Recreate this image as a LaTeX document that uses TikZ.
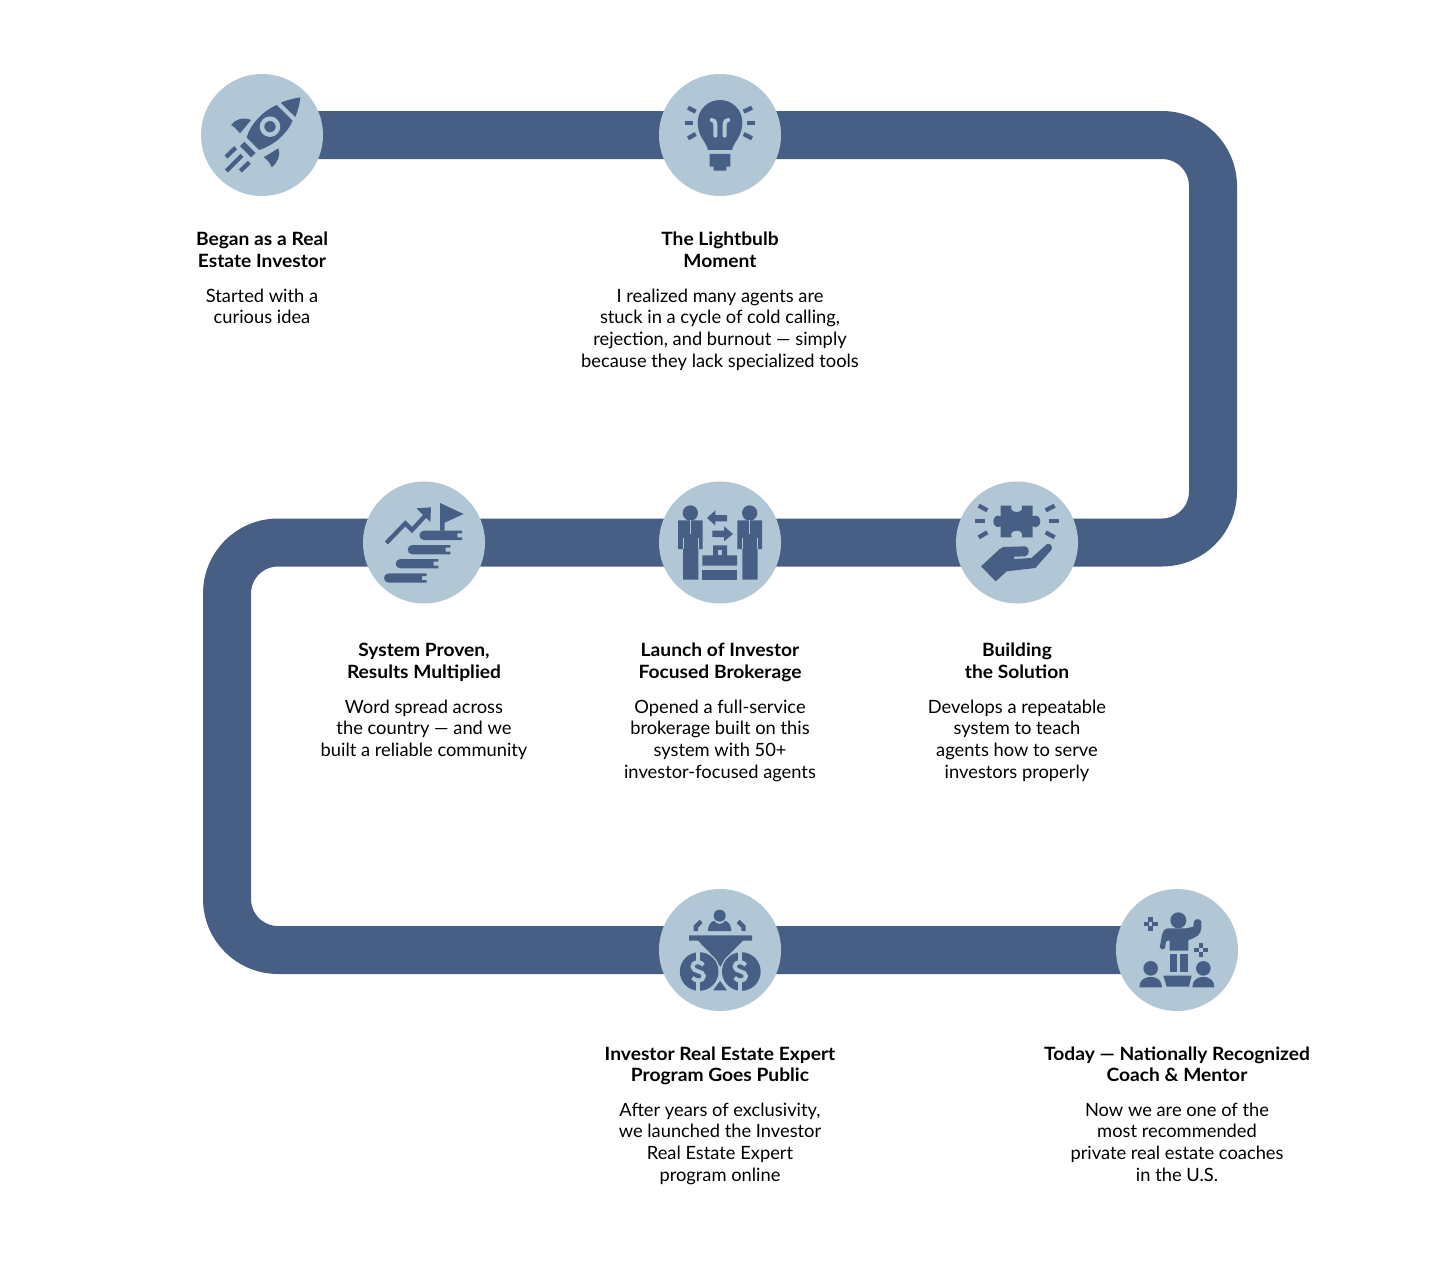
\documentclass[tikz,border=0pt]{standalone}
\usepackage{fontspec}
\setmainfont{Lato}[BoldFeatures={FakeStretch=1.05}]
\usetikzlibrary{backgrounds}
\definecolor{pathblue}{HTML}{475F85}
\definecolor{disc}{HTML}{B2C7D6}
\tikzset{
  x=1pt,y=-1pt,
  stagedisc/.style={circle,fill=disc,minimum size=122pt,inner sep=0pt,outer sep=0pt},
  track/.style={draw=pathblue,line width=48pt,rounded corners=51pt},
  stagetitle/.style={anchor=north,align=center,inner sep=0pt,font=\fontsize{18.3pt}{21.6pt}\selectfont\bfseries},
  stagebody/.style={anchor=north,align=center,inner sep=0pt,font=\fontsize{18.3pt}{21.7pt}\selectfont},
  ic/.style={fill=pathblue,draw=none},
  icl/.style={draw=pathblue,line width=4.3pt},
  lite/.style={draw=disc,line width=4pt},
}
\newcommand{\iconat}[3]{\begin{scope}[shift={(#1,#2)},x=0.33333pt,y=-0.33333pt]#3\end{scope}}
\begin{document}
\begin{tikzpicture}
\useasboundingbox (0,0) rectangle (1440,1263);
\node[stagedisc] (s1) at (262,135) {};
\node[stagedisc] (s2) at (720,135) {};
\node[stagedisc] (s3) at (1017,542.5) {};
\node[stagedisc] (s4) at (720,542.5) {};
\node[stagedisc] (s5) at (424,542.5) {};
\node[stagedisc] (s6) at (720,950) {};
\node[stagedisc] (s7) at (1177,950) {};
\coordinate (c1) at (1213,135);
\coordinate (c2) at (1213,542.5);
\coordinate (c3) at (227,542.5);
\coordinate (c4) at (227,950);
\begin{scope}[on background layer]
\fill[white] (0,0) rectangle (1440,1263);
\draw[track] (s1.center) -- (s2.center) -- (c1) -- (c2) -- (s3.center) -- (s4.center) -- (s5.center) -- (c3) -- (c4) -- (s6.center) -- (s7.center);
\end{scope}

% texts
\node[stagetitle] (t1) at (262,232) {Began as a Real\\Estate Investor};
\node[stagebody] (b1) at (262,288.5) {Started with a\\curious idea};
\node[stagetitle] (t2) at (720,232) {The Lightbulb\\Moment};
\node[stagebody] (b2) at (720,288.5) {I realized many agents are\\stuck in a cycle of cold calling,\\rejection, and burnout — simply\\because they lack specialized tools};
\node[stagetitle] (t3) at (1017,643) {Building\\the Solution};
\node[stagebody] (b3) at (1017,699.5) {Develops a repeatable\\system to teach\\agents how to serve\\investors properly};
\node[stagetitle] (t4) at (720,643) {Launch of Investor\\Focused Brokerage};
\node[stagebody] (b4) at (720,699.5) {Opened a full-service\\brokerage built on this\\system with 50+\\investor-focused agents};
\node[stagetitle] (t5) at (424,643) {System Proven,\\Results Multiplied};
\node[stagebody] (b5) at (424,699.5) {Word spread across\\the country — and we\\built a reliable community};
\node[stagetitle] (t6) at (720,1046.5) {Investor Real Estate Expert\\Program Goes Public};
\node[stagebody] (b6) at (720,1102.5) {After years of exclusivity,\\we launched the Investor\\Real Estate Expert\\program online};
\node[stagetitle] (t7) at (1177,1046.5) {Today — Nationally Recognized\\Coach \& Mentor};
\node[stagebody] (b7) at (1177,1102.5) {Now we are one of the\\most recommended\\private real estate coaches\\in the U.S.};

% rocket
\iconat{195}{70}{
\fill[ic] (245,105) .. controls (200,125) and (165,165) .. (155,203) -- (192,240) .. controls (232,228) and (275,195) .. (293,152) -- cycle;
\draw[disc,line width=4.4pt,fill=pathblue] (225,170) circle (24);
\fill[ic] (257,98) .. controls (275,90) and (298,85) .. (316,82) .. controls (314,102) and (309,122) .. (301,141) -- cycle;
\fill[ic] (148,215) -- (182,249) -- (168,262) -- (135,228) -- cycle;
\fill[ic] (108,165) .. controls (120,148) and (145,140) .. (168,150) -- (135,190) .. controls (125,178) and (118,170) .. (108,165) -- cycle;
\fill[ic] (250,235) .. controls (258,255) and (248,278) .. (230,292) .. controls (226,280) and (218,270) .. (206,262) -- cycle;
\draw[icl] (93,261) -- (122,233);
\draw[icl] (94,303) -- (141,256);
\draw[icl] (136,303) -- (163,277);
}
% bulb
\iconat{653}{70}{
\fill[ic] (165,240) .. controls (160,215) and (134,200) .. (134,158) .. controls (134,118) and (165,90) .. (201,90) .. controls (237,90) and (268,118) .. (268,158) .. controls (268,200) and (242,215) .. (237,240) -- cycle;
\fill[ic] (170,252) -- (232,252) -- (232,290) -- (220,290) -- (220,302) -- (182,302) -- (182,290) -- (170,290) -- cycle;
\draw[lite,line cap=round] (187,197) -- (187,165) .. controls (187,155) and (183,150) .. (176,150);
\draw[lite,line cap=round] (215,197) -- (215,165) .. controls (215,155) and (219,150) .. (226,150);
\foreach \a/\b/\c/\d in {105/113/128/125,95/158/120/158,105/205/128/192,297/113/272/125,307/158/282/158,297/205/272/192}
  \draw[icl] (\a,\b) -- (\c,\d);
}
% puzzle and hand
\iconat{950}{478}{
\fill[ic] (152,83) -- (185,83) .. controls (180,92) and (186,102) .. (200,102) .. controls (214,102) and (220,92) .. (215,83) -- (248,83) -- (248,115) .. controls (260,108) and (271,118) .. (271,130) .. controls (271,142) and (260,152) .. (248,145) -- (248,178) -- (215,178) .. controls (220,168) and (214,158) .. (200,158) .. controls (186,158) and (180,168) .. (185,178) -- (152,178) -- (152,145) .. controls (140,152) and (130,142) .. (130,130) .. controls (130,118) and (140,108) .. (152,115) -- cycle;
\foreach \a/\b/\c/\d in {86/83/112/97,74/130/104/130,86/178/112/163,314/83/287/97,326/130/297/130,314/178/287/163}
  \draw[icl] (\a,\b) -- (\c,\d);
\fill[ic] (93,265) -- (148,214) .. controls (152,210) and (155,208) .. (160,207) -- (225,205) .. controls (240,206) and (240,233) .. (225,235) -- (192,236) -- (192,243) -- (244,240) -- (290,199) .. controls (300,192) and (312,208) .. (303,217) -- (256,270) -- (170,280) -- (137,310) -- cycle;
}
% brokers
\iconat{653}{478}{
\foreach \px in {112,290}{
  \fill[ic] (\px,105) circle (23);
  \fill[ic] (\px-37,127) -- (\px+37,127) -- (\px+37,213) -- (\px+24,213) -- (\px+24,305) -- (\px-22,305) -- (\px-22,213) -- (\px-37,213) -- cycle;
  \draw[disc,line width=1.4pt] (\px,127) -- (\px,168);
  \draw[disc,line width=.8pt] (\px-22,180) -- (\px-22,213);
  \draw[disc,line width=.8pt] (\px+24,180) -- (\px+24,213);
}
\fill[ic] (148,232) -- (180,232) -- (180,202) -- (222,202) -- (222,232) -- (252,232) -- (252,263) -- (148,263) -- cycle;
\fill[disc] (195,217) rectangle (208,232);
\fill[ic] (148,275) rectangle (252,305);
\fill[ic] (162,120) -- (187,97) -- (187,111) -- (222,111) -- (222,130) -- (187,130) -- (187,143) -- cycle;
\fill[ic] (240,168) -- (213,145) -- (213,158) -- (178,158) -- (178,177) -- (213,177) -- (213,190) -- cycle;
}
% stairs
\iconat{357}{478}{
\foreach \sx/\sy in {187/158,152/201,116/243,81/286}{
  \fill[ic] (\sx+14,\sy) -- (\sx+128,\sy) -- (\sx+128,\sy+8) -- (\sx+114,\sy+8) -- (\sx+114,\sy+20) -- (\sx+128,\sy+20) -- (\sx+128,\sy+28) -- (\sx+14,\sy+28) arc[start angle=-90,end angle=-270,x radius=14,y radius=-14] -- cycle;
}
\fill[ic] (249,75) -- (320,108) -- (263,134) -- (263,158) -- (249,158) -- cycle;
\draw[icl] (88,195) -- (145,136) -- (165,156) -- (206,112);
\fill[ic] (178,91) -- (222,88) -- (220,132) -- cycle;
}
% funnel expert
\iconat{653}{885}{
\fill[ic] (200,92) circle (18);
\fill[ic] (165,138) .. controls (165,122) and (172,110) .. (184,107) .. controls (188,120) and (212,120) .. (216,107) .. controls (228,110) and (235,122) .. (235,138) -- cycle;
\fill[ic] (122,138) -- (122,122) -- (140,104) -- (149,114) -- (135,128) -- (135,138) -- cycle;
\fill[ic] (278,138) -- (278,122) -- (260,104) -- (251,114) -- (265,128) -- (265,138) -- cycle;
\fill[ic] (108,151) -- (297,151) -- (297,167) -- (270,167) -- (232,205) -- (202,245) -- (172,205) -- (135,167) -- (108,167) -- cycle;
\fill[ic] (180,316) -- (201,288) -- (222,316) -- cycle;
\foreach \cx in {138.5,265}{
  \fill[disc] (\cx,259.5) circle (62);
  \fill[ic] (\cx,259.5) circle (58);
  \draw[disc,line width=4pt] (\cx+13,240) .. controls (\cx+5,228) and (\cx-20,228) .. (\cx-20,245) .. controls (\cx-20,262) and (\cx+14,256) .. (\cx+14,273) .. controls (\cx+14,290) and (\cx-13,290) .. (\cx-20,278);
  \draw[disc,line width=4pt] (\cx-3,198) -- (\cx-3,232);
  \draw[disc,line width=4pt] (\cx-3,285) -- (\cx-3,320);
}
}
% teacher
\iconat{1110}{885}{
\fill[ic] (205,106) circle (24);
\fill[ic] (149,187) -- (156,150) .. controls (158,138) and (165,130) .. (175,130) -- (228,130) -- (250,125) -- (252,110) .. controls (253,100) and (272,100) .. (274,110) -- (274,130) .. controls (272,150) and (258,158) .. (235,165) -- (235,197) -- (179,197) -- (179,165) -- (168,170) -- (165,190) .. controls (160,195) and (150,195) .. (149,187) -- cycle;
\fill[ic] (181,208) rectangle (202,262);
\fill[ic] (211,208) rectangle (234,262);
\fill[ic] (160,272) -- (245,272) -- (237,305) -- (170,305) -- cycle;
\fill[ic] (122,250) circle (22);
\fill[ic] (280,250) circle (22);
\fill[ic] (88,307) .. controls (88,288) and (100,276) .. (122,276) .. controls (144,276) and (156,288) .. (156,307) -- cycle;
\fill[ic] (247,307) .. controls (247,288) and (258,276) .. (280,276) .. controls (302,276) and (313,288) .. (313,307) -- cycle;
\foreach \sx/\sy in {122/117,273/195}{
  \fill[ic] (\sx-21,\sy-7) rectangle (\sx-5,\sy+7);
  \fill[ic] (\sx+5,\sy-7) rectangle (\sx+21,\sy+7);
  \fill[ic] (\sx-7,\sy-21) rectangle (\sx+7,\sy-5);
  \fill[ic] (\sx-7,\sy+5) rectangle (\sx+7,\sy+21);
}
}
\end{tikzpicture}
\end{document}
